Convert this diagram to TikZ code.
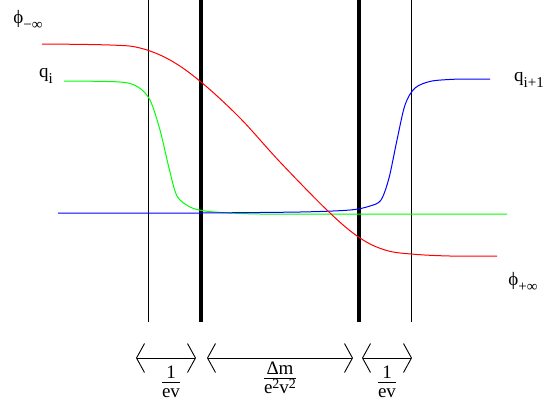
\documentclass[tikz,border=0pt]{standalone}
\usepackage{fontspec}
\setmainfont{Liberation Serif}
\usetikzlibrary{arrows.meta}

\newcommand{\lowsub}[1]{\raisebox{-0.6ex}{\fontsize{15}{15}\selectfont #1}}
\newcommand{\highsup}[1]{\raisebox{0.55ex}{\fontsize{14}{14}\selectfont #1}}
\newcommand{\ratio}[2]{\begin{tabular}{@{}c@{}}#1\\[-3pt]\hline\rule{0pt}{15pt}#2\end{tabular}}

\begin{document}
\begin{tikzpicture}[
  x=1pt, y=-1pt,
  every node/.style={font=\fontsize{19}{21}\selectfont, inner sep=0pt},
  wall/.style={black, line width=0.8pt},
  thickwall/.style={black, line width=3.6pt},
  field/.style={line width=1pt},
  span/.style={line width=0.9pt, {Straight Barb[length=8pt, width=29pt]}-{Straight Barb[length=8pt, width=29pt]}}
]
  \useasboundingbox (0,0) rectangle (546,408);

  % ==========================================
  % 1. PAREDES (lineas verticales)
  % ==========================================
  \draw[wall] (148,0) -- (148,322);
  \draw[thickwall] (201,0) -- (201,322);
  \draw[thickwall] (359,0) -- (359,322);
  \draw[wall] (411,0) -- (411,322);

  % ==========================================
  % 2. CAMPOS
  % ==========================================

  % green, q_i
  \draw[field, green]
    plot [smooth, tension=0.5] coordinates {
      (64,81) (120,82) (138,87) (150,100) (160,130) (169,168)
      (177,196) (190,207) (205,211) (230,213) (260,214) (300,214)
    } -- (507,214);

  % blue, q_{i+1}
  \draw[field, blue]
    (58,213) -- (200,213)
    plot [smooth, tension=0.5] coordinates {
      (200,213) (300,212) (350,210) (370,206) (381,200) (389,178)
      (397,140) (405,105) (415,88) (432,81) (460,79)
    } -- (490,79);

  % red, phi
  \draw[field, red]
    plot [smooth, tension=0.6] coordinates {
      (42,44) (110,45) (140,48) (170,60) (201,82) (240,118)
      (280,162) (330,213) (360,238) (385,250) (411,254) (450,256) (497,256)
    };

  % ==========================================
  % 3. ETIQUETAS
  % ==========================================
  \node (phiminus) at (28,20) {ϕ\lowsub{−∞}};
  \node (qi) at (46,76) {q\lowsub{i}};
  \node (qnext) at (529,80) {q\lowsub{i+1}};
  \node (phiplus) at (523,282) {ϕ\lowsub{+∞}};

  % ==========================================
  % 4. ESCALAS
  % ==========================================
  \coordinate (w1) at (136,358);
  \coordinate (w2) at (196,358);
  \coordinate (w3) at (207,358);
  \coordinate (w4) at (353,358);
  \coordinate (w5) at (362,358);
  \coordinate (w6) at (412,358);

  \draw[span] (w1) -- (w2);
  \draw[span] (w3) -- (w4);
  \draw[span] (w5) -- (w6);

  \node (leftwidth) at (171,384) {\ratio{1}{ev}};
  \node (midwidth) at (280,380) {\ratio{Δm}{e\highsup{2}v\highsup{2}}};
  \node (rightwidth) at (387,384) {\ratio{1}{ev}};

\end{tikzpicture}
\end{document}
